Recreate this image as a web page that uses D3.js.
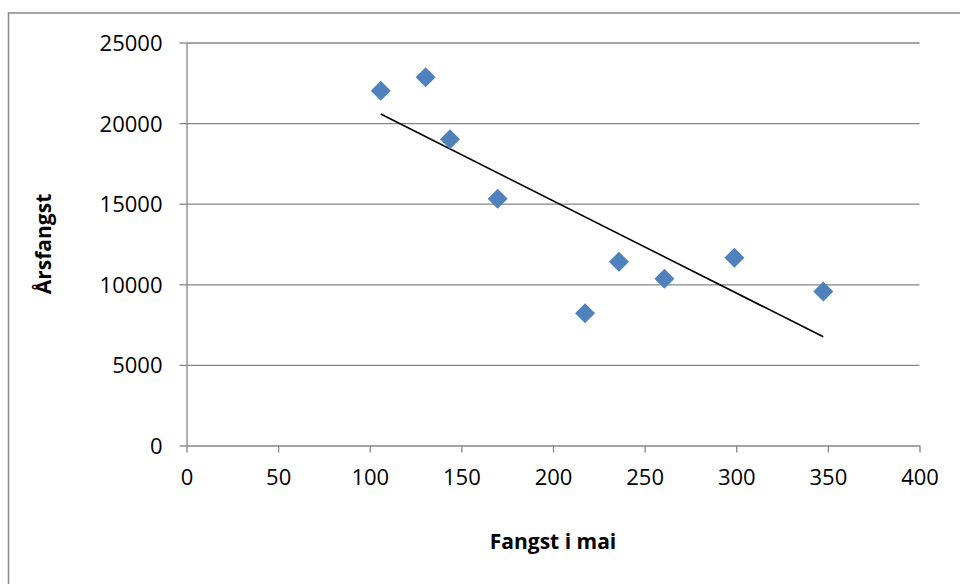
<!DOCTYPE html>
<html>
  <head>
    <meta charset="utf-8">
    <title></title>
  </head>
  <style>
  body{
      font-family: "Open Sans";
      background-color: #fff;
      margin:0;
      padding:0
    }
    .axis path, .axis line {
        stroke: #868686;
        stroke-width: 1.3
    }
    .axis text {
        font-family: "Open Sans";
        font-size: 22px;
        fill: #000
    }
    #grid line {
      stroke: #868686;
      stroke-width: 1.3
    }
    #grid path {
      display: none
    }
    .title {
        font-family: "Open Sans";
        font-weight: bold;
        font-size: 21px;
        fill: #000
    }
  </style>
  <script src="https://d3js.org/d3.v7.min.js"></script>
  <body>
    <script>
    // data
    const mai   = [106, 130.5, 143.8, 169.8, 217.5, 236, 260.8, 299, 347.5]
    const aars  = [22000, 22850, 19000, 15300, 8200, 11400, 10350, 11650, 9550]
    const xTicks = [0, 50, 100, 150, 200, 250, 300, 350, 400]
    const yTicks = [0, 5000, 10000, 15000, 20000, 25000]

    var W = 960, H = 584
    var padding = { left: 186.5, top: 42.5, right: 40.5, bottom: 138.5 }
    var width = W - padding.left - padding.right
    var height = H - padding.top - padding.bottom

    var svg = d3.select("body").append("svg")
                .attr("width", W)
                .attr("height", H)

    // outer frame (right and bottom fall outside the picture)
    svg.append("rect")
       .attr("x", 8.5).attr("y", 13)
       .attr("width", 1000).attr("height", 1000)
       .attr("fill", "none")
       .attr("stroke", "#868686")
       .attr("stroke-width", 1.5)

    var g = svg.append("g")
               .attr("transform", "translate(" + padding.left + "," + padding.top + ")")

    var xScale = d3.scaleLinear().domain([0, 400]).range([0, width])
    var yScale = d3.scaleLinear().domain([0, 25000]).range([height, 0])

    // gridlines
    g.append("g")
     .attr("id", "grid")
     .call(d3.axisLeft(yScale).tickValues(yTicks.slice(1)).tickSize(-width).tickFormat(""))

    // y axis
    var yAxis = g.append("g")
     .attr("class", "axis")
     .call(d3.axisLeft(yScale).tickValues(yTicks).tickSize(7).tickSizeOuter(0).tickPadding(17).tickFormat(d3.format("d")))
    yAxis.selectAll("text").attr("dy", "0.36em")

    // x axis
    var xAxis = g.append("g")
     .attr("class", "axis")
     .attr("transform", "translate(0," + height + ")")
     .call(d3.axisBottom(xScale).tickValues(xTicks).tickSize(7).tickSizeOuter(0).tickPadding(17))

    // trend line (least squares)
    var mx = d3.mean(mai), my = d3.mean(aars)
    var slope = d3.sum(mai, (d, i) => (d - mx) * (aars[i] - my)) / d3.sum(mai, d => (d - mx) * (d - mx))
    var icpt = my - slope * mx
    var ext = d3.extent(mai)
    var trend = ext.map(x => [x, icpt + slope * x])

    g.append("path")
     .attr("d", d3.line().x(d => xScale(d[0])).y(d => yScale(d[1]))(trend))
     .attr("fill", "none")
     .attr("stroke", "#000")
     .attr("stroke-width", 1.6)

    // markers
    var diamond = d3.symbol().type(d3.symbolSquare).size(200)
    g.append("g").selectAll("path")
     .data(mai)
     .enter()
     .append("path")
     .attr("d", diamond)
     .attr("transform", (d, i) => "translate(" + xScale(d) + "," + yScale(aars[i]) + ") rotate(45)")
     .attr("fill", "#4F81BD")

    // axis titles
    svg.append("text")
       .attr("class", "title")
       .attr("x", padding.left + width / 2)
       .attr("y", 549)
       .attr("text-anchor", "middle")
       .text("Fangst i mai")

    svg.append("text")
       .attr("class", "title")
       .attr("transform", "translate(51," + (padding.top + height / 2) + ") rotate(-90)")
       .attr("text-anchor", "middle")
       .text("Årsfangst")
    </script>
  </body>
</html>
